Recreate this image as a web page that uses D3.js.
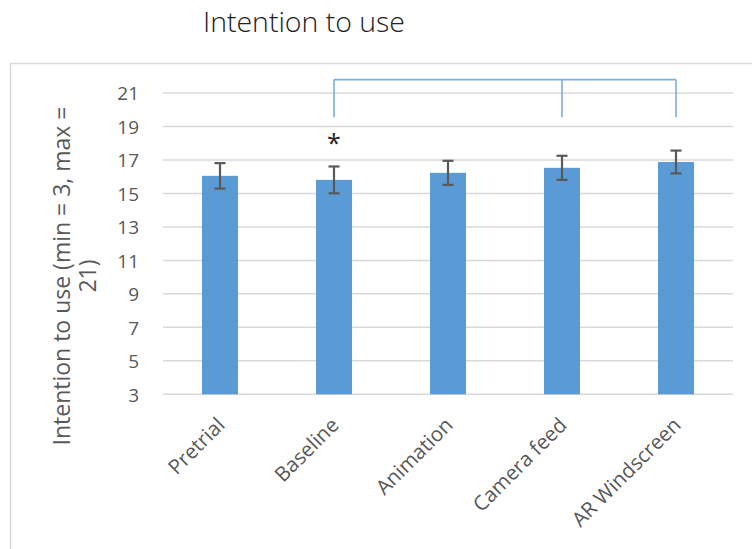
<!DOCTYPE html>
<html>
<head>
<meta charset="utf-8">
<script src="https://cdn.jsdelivr.net/npm/d3@7/dist/d3.min.js"></script>
<style>
  html, body { margin: 0; padding: 0; background: #fff; }
  svg { display: block; font-family: "Open Sans", "Noto Sans", sans-serif; }
</style>
</head>
<body>
<svg id="chart" width="752" height="549"></svg>
<script>
// Conditions and mean scores with error (±) per condition
const categories = ["Pretrial", "Baseline", "Animation", "Camera feed", "AR Windscreen"];
const means = [16.05, 15.81, 16.23, 16.53, 16.88];
const errors = [0.76, 0.80, 0.72, 0.72, 0.68];
const yTicks = [3, 5, 7, 9, 11, 13, 15, 17, 19, 21];

// Significance bracket: Baseline compared with Camera feed and AR Windscreen
const bracketFrom = "Baseline";
const bracketTo = ["Camera feed", "AR Windscreen"];
const bracketTop = 21.8;
const bracketBottom = 19.55;
const starLabel = "*";
const starCategory = "Baseline";
const starValue = 18.05;

const titleText = "Intention to use";
const yTitleLines = ["Intention to use (min = 3, max =", "21)"];

const W = 752, H = 549;
const svg = d3.select("#chart");

// chart frame
svg.append("rect")
  .attr("x", 10.5).attr("y", 63.5)
  .attr("width", W + 20).attr("height", H + 20)
  .attr("fill", "none").attr("stroke", "#d9d9d9").attr("stroke-width", 1.5);

const x = d3.scaleBand()
  .domain(categories)
  .range([163, 733])
  .paddingInner(0.684)
  .paddingOuter(0.342);

const y = d3.scaleLinear().domain([3, 21]).range([394.3, 93]);

// gridlines
svg.append("g")
  .selectAll("line")
  .data(yTicks)
  .join("line")
  .attr("x1", 163).attr("x2", 733)
  .attr("y1", d => y(d)).attr("y2", d => y(d))
  .attr("stroke", "#d9d9d9").attr("stroke-width", 1.5);

// y tick labels
const yAxis = svg.append("g")
  .attr("transform", "translate(139,0)")
  .call(d3.axisLeft(y).tickValues(yTicks).tickSize(0).tickPadding(0).tickFormat(d3.format("d")));
yAxis.select(".domain").remove();
yAxis.selectAll("text")
  .attr("fill", "#595959")
  .style("font-size", "19px")
  .style("font-family", "'Open Sans', sans-serif")
  .attr("dy", "0.36em");

// bars
svg.append("g")
  .selectAll("rect")
  .data(categories)
  .join("rect")
  .attr("x", d => x(d))
  .attr("width", x.bandwidth())
  .attr("y", (d, i) => y(means[i]))
  .attr("height", (d, i) => y(3) - y(means[i]))
  .attr("fill", "#5b9bd5");

// error bars
const eb = svg.append("g").attr("stroke", "#595959").attr("stroke-width", 2.2);
categories.forEach((c, i) => {
  const cx = x(c) + x.bandwidth() / 2;
  const hi = y(means[i] + errors[i]), lo = y(means[i] - errors[i]);
  eb.append("line").attr("x1", cx).attr("x2", cx).attr("y1", hi).attr("y2", lo);
  eb.append("line").attr("x1", cx - 5.5).attr("x2", cx + 5.5).attr("y1", hi).attr("y2", hi);
  eb.append("line").attr("x1", cx - 5.5).attr("x2", cx + 5.5).attr("y1", lo).attr("y2", lo);
});

// x category labels
const xAxis = svg.append("g")
  .attr("transform", `translate(0,${y(3)})`)
  .call(d3.axisBottom(x).tickSize(0).tickPadding(0));
xAxis.select(".domain").remove();
xAxis.selectAll("text")
  .attr("fill", "#595959")
  .style("font-size", "20.5px")
  .style("font-family", "'Open Sans', sans-serif")
  .attr("text-anchor", "end")
  .attr("dy", "0.35em")
  .attr("transform", "translate(1,27) rotate(-45)");

// significance bracket
const mid = c => x(c) + x.bandwidth() / 2;
const bx = [bracketFrom, ...bracketTo].map(mid);
const br = svg.append("g").attr("stroke", "#7aaee0").attr("stroke-width", 1.6).attr("fill", "none");
br.append("line").attr("x1", d3.min(bx)).attr("x2", d3.max(bx))
  .attr("y1", y(bracketTop)).attr("y2", y(bracketTop));
bx.forEach(v => {
  br.append("line").attr("x1", v).attr("x2", v)
    .attr("y1", y(bracketTop)).attr("y2", y(bracketBottom));
});

svg.append("text")
  .attr("x", mid(starCategory))
  .attr("y", y(starValue))
  .attr("text-anchor", "middle")
  .attr("dominant-baseline", "central")
  .attr("fill", "#222")
  .style("font-size", "25px")
  .text(starLabel);

// chart title
svg.append("text")
  .attr("x", 203).attr("y", 32)
  .attr("fill", "#222")
  .style("font-size", "27px")
  .style("font-weight", 300)
  .attr("textLength", 202)
  .attr("lengthAdjust", "spacingAndGlyphs")
  .text(titleText);

// y axis title (two lines)
const yt = svg.append("text")
  .attr("transform", "translate(62,276) rotate(-90)")
  .attr("text-anchor", "middle")
  .attr("fill", "#595959")
  .style("font-size", "23px");
yTitleLines.forEach((t, i) => {
  yt.append("tspan").attr("x", 0).attr("y", i * 26).attr("dy", "0.35em").text(t);
});
</script>
</body>
</html>
